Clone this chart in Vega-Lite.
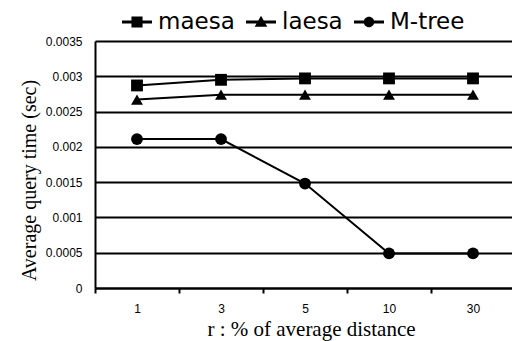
{
  "$schema": "https://vega.github.io/schema/vega-lite/v6.json",
  "autosize": "none",
  "width": 420,
  "height": 247,
  "padding": {"left": 95, "top": 41, "right": 0, "bottom": 53},
  "background": "white",
  "config": {
    "view": {"stroke": null},
    "axis": {
      "labelFont": "Liberation Sans",
      "labelColor": "black",
      "titleFont": "Liberation Serif",
      "titleFontWeight": "normal",
      "titleColor": "black",
      "domainColor": "black",
      "tickColor": "black",
      "gridColor": "black"
    }
  },
  "data": {
    "values": [
      {"r": "1", "method": "maesa", "time": 0.00287},
      {"r": "3", "method": "maesa", "time": 0.00295},
      {"r": "5", "method": "maesa", "time": 0.00297},
      {"r": "10", "method": "maesa", "time": 0.00297},
      {"r": "30", "method": "maesa", "time": 0.00297},
      {"r": "1", "method": "laesa", "time": 0.00267},
      {"r": "3", "method": "laesa", "time": 0.00274},
      {"r": "5", "method": "laesa", "time": 0.00274},
      {"r": "10", "method": "laesa", "time": 0.00274},
      {"r": "30", "method": "laesa", "time": 0.00274},
      {"r": "1", "method": "M-tree", "time": 0.00211},
      {"r": "3", "method": "M-tree", "time": 0.00211},
      {"r": "5", "method": "M-tree", "time": 0.00148},
      {"r": "10", "method": "M-tree", "time": 0.00049},
      {"r": "30", "method": "M-tree", "time": 0.00049}
    ]
  },
  "encoding": {
    "x": {
      "field": "r",
      "type": "ordinal",
      "sort": ["1", "3", "5", "10", "30"],
      "scale": {"type": "band", "paddingInner": 0, "paddingOuter": 0},
      "axis": {
        "title": "r : % of average distance",
        "titleFontSize": 21,
        "titlePadding": 4,
        "titleX": 216,
        "labelAngle": 0,
        "labelFontSize": 12,
        "labelPadding": 10,
        "tickBand": "extent",
        "tickSize": 5,
        "tickWidth": 2,
        "domainWidth": 2,
        "grid": false
      }
    },
    "y": {
      "field": "time",
      "type": "quantitative",
      "scale": {"domain": [0, 0.0035], "nice": false},
      "axis": {
        "title": "Average query time (sec)",
        "titleFontSize": 20,
        "titlePadding": 6,
        "titleY": 139,
        "values": [0, 0.0005, 0.001, 0.0015, 0.002, 0.0025, 0.003, 0.0035],
        "format": ".4~f",
        "labelFontSize": 12,
        "labelPadding": 13,
        "ticks": false,
        "domainWidth": 2,
        "grid": true,
        "gridWidth": 2,
        "gridOpacity": 1
      }
    }
  },
  "resolve": {"scale": {"shape": "independent"}, "legend": {"shape": "independent"}},
  "layer": [
    {
      "mark": {"type": "line", "color": "black", "strokeWidth": 2},
      "encoding": {"detail": {"field": "method"}}
    },
    {
      "mark": {"type": "point", "filled": true, "color": "black", "opacity": 1, "size": 140},
      "encoding": {
        "shape": {
          "field": "method",
          "type": "nominal",
          "scale": {"domain": ["maesa", "laesa", "M-tree"], "range": ["square", "triangle-up", "circle"]},
          "legend": null
        }
      }
    },
    {
      "mark": {"type": "point", "filled": true, "color": "black", "opacity": 0, "size": 900},
      "encoding": {
        "shape": {
          "field": "method",
          "type": "nominal",
          "scale": {
            "domain": ["maesa", "laesa", "M-tree"],
            "range": [
              "M-1,-0.1H1V0.1H-1ZM-0.37,-0.37H0.37V0.37H-0.37Z",
              "M-1,-0.1H1V0.1H-1ZM0,-0.42L0.42,0.32H-0.42Z",
              "M-1,-0.1H1V0.1H-1ZM-0.35,0A0.35,0.35 0 0 1 0.35,0A0.35,0.35 0 0 1 -0.35,0Z"
            ]
          },
          "legend": {
            "title": null,
            "orient": "none",
            "direction": "horizontal",
            "legendX": 27,
            "legendY": -34,
            "padding": 0,
            "labelFont": "DejaVu Sans",
            "labelFontSize": 23,
            "labelColor": "black",
            "labelOffset": 6,
            "columnPadding": 11,
            "symbolSize": 900,
            "symbolOpacity": 1,
            "symbolFillColor": "black",
            "symbolStrokeWidth": 0
          }
        }
      }
    }
  ]
}
